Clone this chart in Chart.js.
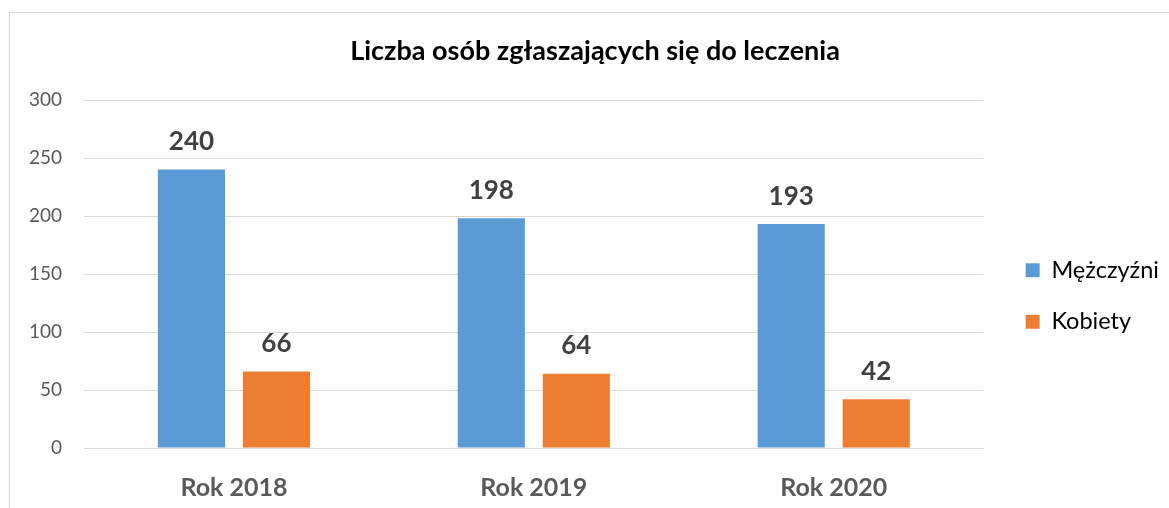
<!DOCTYPE html>
<html>
<head>
<meta charset="utf-8">
<script src="https://cdn.jsdelivr.net/npm/chart.js@4"></script>
<style>
  html, body { margin: 0; padding: 0; background: #fff; overflow: hidden; }
  #wrap { position: relative; width: 1169px; height: 508px; }
  #frame { position: absolute; left: 9px; top: 12px; width: 1200px; height: 600px; border: 1px solid #d9d9d9; pointer-events: none; }
</style>
</head>
<body>
<div id="wrap">
  <canvas id="chartCanvas" width="1169" height="508"></canvas>
  <div id="frame"></div>
</div>
<script>
const categories = ['Rok 2018', 'Rok 2019', 'Rok 2020'];
const menValues = [240, 198, 193];
const womenValues = [66, 64, 42];
const yTicks = [0, 50, 100, 150, 200, 250, 300];

const fontName = 'Lato, "Open Sans", sans-serif';

// draws the value above every bar
const valueLabels = {
    id: 'valueLabels',
    afterDatasetsDraw(chart) {
        const ctx = chart.ctx;
        ctx.save();
        ctx.font = 'bold 26px ' + fontName;
        ctx.fillStyle = '#404040';
        ctx.textAlign = 'center';
        ctx.textBaseline = 'bottom';
        chart.data.datasets.forEach((ds, i) => {
            chart.getDatasetMeta(i).data.forEach((bar, j) => {
                ctx.fillText(ds.data[j], bar.x, bar.y - 15);
            });
        });
        ctx.restore();
    }
};

const ctx = document.getElementById('chartCanvas').getContext('2d');
new Chart(ctx, {
    type: 'bar',
    data: {
        labels: categories,
        datasets: [
            { label: 'Mężczyźni', data: menValues, backgroundColor: '#5B9BD5' },
            { label: 'Kobiety', data: womenValues, backgroundColor: '#ED7D31' }
        ]
    },
    options: {
        responsive: false,
        animation: false,
        categoryPercentage: 0.567,
        barPercentage: 0.79,
        layout: { padding: { left: 21, right: 0, top: 0, bottom: 0 } },
        plugins: {
            title: {
                display: true,
                text: 'Liczba osób zgłaszających się do leczenia',
                color: '#000',
                font: { family: fontName, size: 27, weight: 'bold' },
                padding: { top: 35, bottom: 32.6 }
            },
            legend: {
                position: 'right',
                title: { display: true, text: ' ', padding: 30, font: { size: 20 } },
                labels: {
                    boxWidth: 14,
                    boxHeight: 14,
                    padding: 28,
                    color: '#000',
                    font: { family: fontName, size: 23.5 }
                }
            },
            tooltip: { enabled: false }
        },
        scales: {
            y: {
                min: 0,
                max: 300,
                afterBuildTicks: s => { s.ticks = yTicks.map(v => ({ value: v })); },
                afterFit: s => { s.width = 63; },
                grid: { color: '#d9d9d9', drawTicks: false },
                border: { display: false },
                ticks: { color: '#595959', padding: 22, font: { family: fontName, size: 19 } }
            },
            // empty spacer between plot and legend
            spacer: {
                type: 'linear',
                position: 'right',
                afterFit: s => { s.width = 14; },
                grid: { display: false },
                border: { display: false },
                ticks: { display: false }
            },
            x: {
                afterFit: s => { s.height = 60; },
                grid: { display: false },
                border: { display: false },
                ticks: { color: '#595959', padding: 17, font: { family: fontName, size: 25, weight: 'bold' } }
            }
        }
    },
    plugins: [valueLabels]
});
</script>
</body>
</html>
